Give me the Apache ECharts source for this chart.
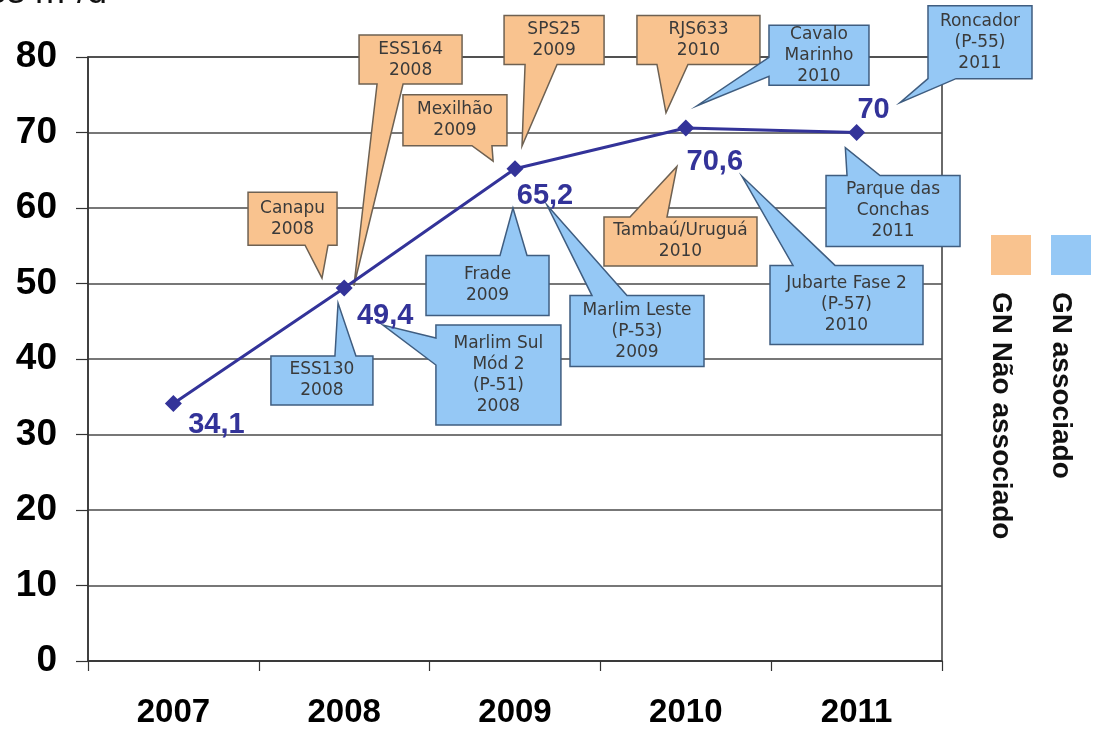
<!DOCTYPE html>
<html>
<head>
<meta charset="utf-8">
<script src="https://cdn.jsdelivr.net/npm/echarts@6/dist/echarts.min.js"></script>
<style>
  html, body { margin: 0; padding: 0; background: #ffffff; }
  #chart { width: 1094px; height: 729px; }
</style>
</head>
<body>
<div id="chart"></div>
<script>
// Gas production capacity by year (million m³/day)
const years = ['2007', '2008', '2009', '2010', '2011'];
const production = [34.1, 49.4, 65.2, 70.6, 70];

// Y axis range
const yMin = 0;
const yMax = 80;
const yStep = 10;

// Projects coming on stream, and whether the gas is associated or not
const projects = [
  'Canapu\n2008',
  'ESS164\n2008',
  'Mexilhão\n2009',
  'SPS25\n2009',
  'RJS633\n2010',
  'Cavalo\nMarinho\n2010',
  'Roncador\n(P-55)\n2011',
  'Tambaú/Uruguá\n2010',
  'Parque das\nConchas\n2011',
  'Jubarte Fase 2\n(P-57)\n2010',
  'Marlim Leste\n(P-53)\n2009',
  'Frade\n2009',
  'ESS130\n2008',
  'Marlim Sul\nMód 2\n(P-51)\n2008'
];
const projectGroup = [
  'nao', 'nao', 'nao', 'nao', 'nao', 'assoc', 'assoc',
  'nao', 'assoc', 'assoc', 'assoc', 'assoc', 'assoc', 'assoc'
];

const legendNames = { nao: 'GN Não associado', assoc: 'GN associado' };
const unitLabel = 'Milhões m³/d';

// ---- styling / layout ----
const groupStyle = {
  nao:   { fill: '#F9C38F', stroke: '#6e6152' },
  assoc: { fill: '#95C8F5', stroke: '#3f5d80' }
};
const lineColor = '#333399';
const labelOffsets = [[43, 21], [41, 28], [30, 27], [29, 34], [17, -23]];

// Callout placement: box top-left anchored in [category index, value],
// box size in px, pointer tip in [category index, value],
// pointer base on a box side given as px offsets along that side.
const calloutLayout = [
  { box: [0.437, 62.1], size: [89, 53],  tip: [0.870, 50.7], side: 'bottom', base: [57, 80] },
  { box: [1.087, 82.9], size: [103, 49], tip: [1.057, 49.7], side: 'bottom', base: [18, 44] },
  { box: [1.344, 75.0], size: [104, 51], tip: [1.872, 66.2], side: 'bottom', base: [69, 89] },
  { box: [1.936, 85.5], size: [100, 49], tip: [2.041, 68.2], side: 'bottom', base: [21, 53] },
  { box: [2.714, 85.5], size: [123, 49], tip: [2.884, 72.6], side: 'bottom', base: [20, 51] },
  { box: [3.487, 84.2], size: [100, 60], tip: [3.066, 73.55], side: 'left', base: [32, 51] },
  { box: [4.418, 86.8], size: [104, 73], tip: [4.254, 73.95], side: 'bottom', base: [0, 28] },
  { box: [2.521, 58.8], size: [153, 49], tip: [2.948, 65.5], side: 'top', base: [26, 63] },
  { box: [3.821, 64.3], size: [134, 71], tip: [3.934, 68.0], side: 'top', base: [21, 54] },
  { box: [3.493, 52.4], size: [153, 79], tip: [3.329, 64.2], side: 'top', base: [23, 65] },
  { box: [2.322, 48.4], size: [134, 71], tip: [2.187, 60.4], side: 'top', base: [22, 57] },
  { box: [1.479, 53.7], size: [123, 60], tip: [1.988, 60.0], side: 'top', base: [74, 101] },
  { box: [0.571, 40.4], size: [102, 49], tip: [0.964, 47.4], side: 'top', base: [64, 85] },
  { box: [1.537, 44.5], size: [125, 100], tip: [1.227, 44.5], side: 'left', base: [13, 40] }
];

const FONT = 'Arial, "Liberation Sans", sans-serif';
const NOTE_FONT = '"DejaVu Sans", Verdana, sans-serif';
const chart = echarts.init(document.getElementById('chart'));

chart.setOption({
  animation: false,
  backgroundColor: '#ffffff',
  grid: {
    left: 88, right: 152, top: 57, bottom: 64,
    show: true, borderColor: '#3a3a3a', borderWidth: 1.5
  },
  xAxis: {
    type: 'category',
    data: years,
    boundaryGap: true,
    axisLine: { lineStyle: { color: '#333', width: 1.5 } },
    axisTick: { show: true, length: 10, interval: 0, lineStyle: { color: '#333', width: 1.2 } },
    axisLabel: { margin: 35, fontSize: 33, fontWeight: 'bold', color: '#000', fontFamily: FONT },
    splitLine: { show: false }
  },
  yAxis: {
    type: 'value',
    min: yMin, max: yMax, interval: yStep,
    axisLine: { show: true, lineStyle: { color: '#333', width: 1.5 } },
    axisTick: { show: true, length: 12, lineStyle: { color: '#333', width: 1.2 } },
    axisLabel: {
      margin: 31, fontSize: 37, fontWeight: 'bold', color: '#000', fontFamily: FONT,
      padding: [6, 0, 0, 0]
    },
    splitLine: { show: true, lineStyle: { color: '#4a4a4a', width: 1.5 } }
  },
  series: [{
    type: 'line',
    z: 5,
    data: production.map((v, k) => ({
      value: v,
      label: { offset: labelOffsets[k] }
    })),
    symbol: 'diamond',
    symbolSize: 17,
    itemStyle: { color: lineColor },
    lineStyle: { color: lineColor, width: 3 },
    label: {
      show: true,
      position: 'inside',
      align: 'center',
      verticalAlign: 'middle',
      color: lineColor,
      fontSize: 29,
      fontWeight: 'bold',
      fontFamily: FONT,
      formatter: p => String(p.value).replace('.', ',')
    }
  }]
});

// Map a [category index, value] pair to pixels through the chart's axes
function toPixel(i, v) {
  const xa = chart.convertToPixel({ xAxisIndex: 0 }, 0);
  const xb = chart.convertToPixel({ xAxisIndex: 0 }, 1);
  return [xa + i * (xb - xa), chart.convertToPixel({ yAxisIndex: 0 }, v)];
}

function calloutPoints(x0, y0, w, h, side, a, b, tip) {
  const x1 = x0 + w, y1 = y0 + h;
  switch (side) {
    case 'bottom':
      return [[x0, y0], [x1, y0], [x1, y1], [x0 + b, y1], tip, [x0 + a, y1], [x0, y1]];
    case 'top':
      return [[x0, y0], [x0 + a, y0], tip, [x0 + b, y0], [x1, y0], [x1, y1], [x0, y1]];
    case 'left':
      return [[x0, y0], [x1, y0], [x1, y1], [x0, y1], [x0, y0 + b], tip, [x0, y0 + a]];
    default:
      return [[x0, y0], [x1, y0], [x1, y0 + a], tip, [x1, y0 + b], [x1, y1], [x0, y1]];
  }
}

const elements = [];
projects.forEach((text, k) => {
  const lay = calloutLayout[k];
  const st = groupStyle[projectGroup[k]];
  const [bx, by] = toPixel(lay.box[0], lay.box[1]);
  const tip = toPixel(lay.tip[0], lay.tip[1]);
  const [w, h] = lay.size;
  elements.push({
    type: 'polygon',
    z: 1,
    shape: { points: calloutPoints(bx, by, w, h, lay.side, lay.base[0], lay.base[1], tip) },
    style: { fill: st.fill, stroke: st.stroke, lineWidth: 1.5, lineJoin: 'miter' }
  });
  elements.push({
    type: 'text',
    z: 2,
    x: bx + w / 2,
    y: by + h / 2,
    style: {
      text: text,
      fill: '#3a3a3a',
      fontSize: 17,
      fontFamily: NOTE_FONT,
      align: 'center',
      verticalAlign: 'middle',
      lineHeight: 21
    }
  });
});

// Legend swatches with vertical captions
const legendKeys = ['nao', 'assoc'];
const legendX = [991, 1051];
legendKeys.forEach((key, k) => {
  elements.push({
    type: 'rect', z: 1,
    shape: { x: legendX[k], y: 235, width: 40, height: 40 },
    style: { fill: groupStyle[key].fill }
  });
  elements.push({
    type: 'text', z: 2,
    x: legendX[k] + 10, y: 292,
    rotation: -Math.PI / 2,
    style: {
      text: legendNames[key],
      fill: '#111',
      font: 'bold 28px ' + FONT,
      align: 'left',
      verticalAlign: 'middle'
    }
  });
});

// Unit caption at the top-left corner
elements.push({
  type: 'text', z: 2,
  x: 107, y: -7,
  style: { text: unitLabel, fill: '#111', font: '36px ' + FONT, align: 'right', verticalAlign: 'middle' }
});

chart.setOption({ graphic: { elements } });
</script>
</body>
</html>
